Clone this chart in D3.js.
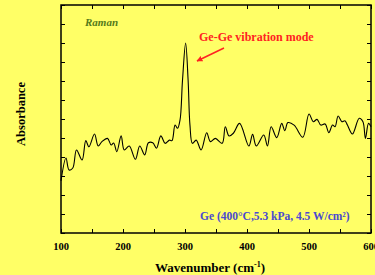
<!DOCTYPE html>
<html>
<head>
<meta charset="utf-8">
<script src="https://cdn.jsdelivr.net/npm/d3@7"></script>
<style>
  body { margin: 0; background: #ffff66; }
  text { font-family: "Liberation Serif", "Times New Roman", serif; font-weight: bold; }
</style>
</head>
<body>
<div id="chart"></div>
<script>
// spectrum (wavenumber, absorbance in arbitrary units)
var wavenumber = [100,108,113,119,125,134,140,145,154,160,166,175,181,185,190,197,202,210,220,227,235,241,248,254,261,268,275,279,284,288,292,296,301,305,308,312,318,326,335,341,349,360,365,371,378,388,403,409,415,427,433,439,448,456,461,466,476,490,500,507,513,519,526,532,538,542,547,553,558,562,570,581,587,591,596,600];
var absorbance = [2.74,3.95,3.32,3.42,4.37,3.84,4.86,4.54,5.21,4.58,4.81,4.98,4.63,4.74,4.28,5.11,4.37,4.58,3.88,4.58,4.11,4.75,4.75,4.46,5.11,4.72,4.89,4.86,5.68,5.51,5.95,8.05,10.0,8.05,5.68,4.72,4.89,4.37,5.28,4.81,4.98,4.72,5.59,5.11,5.25,5.77,4.58,5.19,4.58,5.16,4.58,5.59,5.02,5.77,5.38,5.81,5.68,5.04,6.26,5.86,5.98,5.68,5.74,5.28,5.68,5.59,6.16,5.86,5.91,5.68,5.21,6.04,5.86,4.98,5.77,5.59];
var xTicks = [100, 200, 300, 400, 500, 600];

var data = wavenumber.map(function (d, i) { return {x: d, y: absorbance[i]}; });

var margin = {top: 5, right: 4, bottom: 42, left: 61},
    width = 375 - margin.left - margin.right,
    height = 275 - margin.top - margin.bottom;

var svg = d3.select("#chart")
  .append("svg")
    .attr("width", 375)
    .attr("height", 275)
    .style("background", "#ffff66");

var g = svg.append("g")
    .attr("transform", "translate(" + margin.left + "," + margin.top + ")");

var x = d3.scaleLinear().domain([100, 600]).range([0, width]);
var y = d3.scaleLinear().domain([0, 12]).range([height, 0]);

// ticks pointing inward on all four sides
g.append("g")
    .attr("transform", "translate(0," + height + ")")
    .call(d3.axisBottom(x).tickValues(d3.range(100, 601, 50)).tickSizeInner(-4).tickSizeOuter(0).tickFormat(""));
g.append("g")
    .call(d3.axisTop(x).tickValues(d3.range(100, 601, 50)).tickSizeInner(-4).tickSizeOuter(0).tickFormat(""));
g.append("g")
    .call(d3.axisLeft(y).ticks(12).tickSizeInner(-4).tickSizeOuter(0).tickFormat(""));
g.append("g")
    .attr("transform", "translate(" + width + ",0)")
    .call(d3.axisRight(y).ticks(12).tickSizeInner(-4).tickSizeOuter(0).tickFormat(""));
g.selectAll(".domain").remove();
g.selectAll(".tick line").attr("stroke", "#000").attr("stroke-width", 1);

// frame
g.append("rect")
    .attr("width", width)
    .attr("height", height)
    .attr("fill", "none")
    .attr("stroke", "#000")
    .attr("stroke-width", 1.5);

// x tick labels
g.selectAll(".xlab")
  .data(xTicks)
  .enter()
  .append("text")
    .attr("x", function (d) { return x(d); })
    .attr("y", height + 17)
    .attr("text-anchor", "middle")
    .style("font-size", "10.5px")
    .text(function (d) { return d; });

// the spectrum
var line = d3.line()
    .x(function (d) { return x(d.x); })
    .y(function (d) { return y(d.y); })
    .curve(d3.curveCatmullRom.alpha(0.5));

g.append("path")
    .datum(data)
    .attr("fill", "none")
    .attr("stroke", "#000")
    .attr("stroke-width", 1.1)
    .attr("d", line);

// labels
svg.append("text")
    .attr("x", 85).attr("y", 26)
    .style("font-size", "11px")
    .style("font-style", "italic")
    .attr("fill", "#557a1a")
    .text("Raman");

svg.append("text")
    .attr("x", 199).attr("y", 41)
    .style("font-size", "12px")
    .attr("fill", "#ff2222")
    .text("Ge-Ge vibration mode");

svg.append("defs").append("marker")
    .attr("id", "arrow")
    .attr("viewBox", "0 0 10 10")
    .attr("refX", 9).attr("refY", 5)
    .attr("markerWidth", 4).attr("markerHeight", 4)
    .attr("orient", "auto")
  .append("path")
    .attr("d", "M0,0L10,5L0,10z")
    .attr("fill", "#ff2222");

svg.append("line")
    .attr("x1", 224).attr("y1", 48)
    .attr("x2", 197).attr("y2", 61)
    .attr("stroke", "#ff2222")
    .attr("stroke-width", 1.5)
    .attr("marker-end", "url(#arrow)");

svg.append("text")
    .attr("x", 200).attr("y", 220)
    .style("font-size", "11.5px")
    .attr("fill", "#4a4ad0")
    .text("Ge (400°C,5.3 kPa, 4.5 W/cm²)");

svg.append("text")
    .attr("x", 210).attr("y", 272)
    .attr("text-anchor", "middle")
    .style("font-size", "13px")
    .html("Wavenumber (cm<tspan dy='-5' font-size='8px'>-1</tspan><tspan dy='5'>)</tspan>");

svg.append("text")
    .attr("transform", "translate(25,114) rotate(-90)")
    .attr("text-anchor", "middle")
    .style("font-size", "12.5px")
    .text("Absorbance");
</script>
</body>
</html>
